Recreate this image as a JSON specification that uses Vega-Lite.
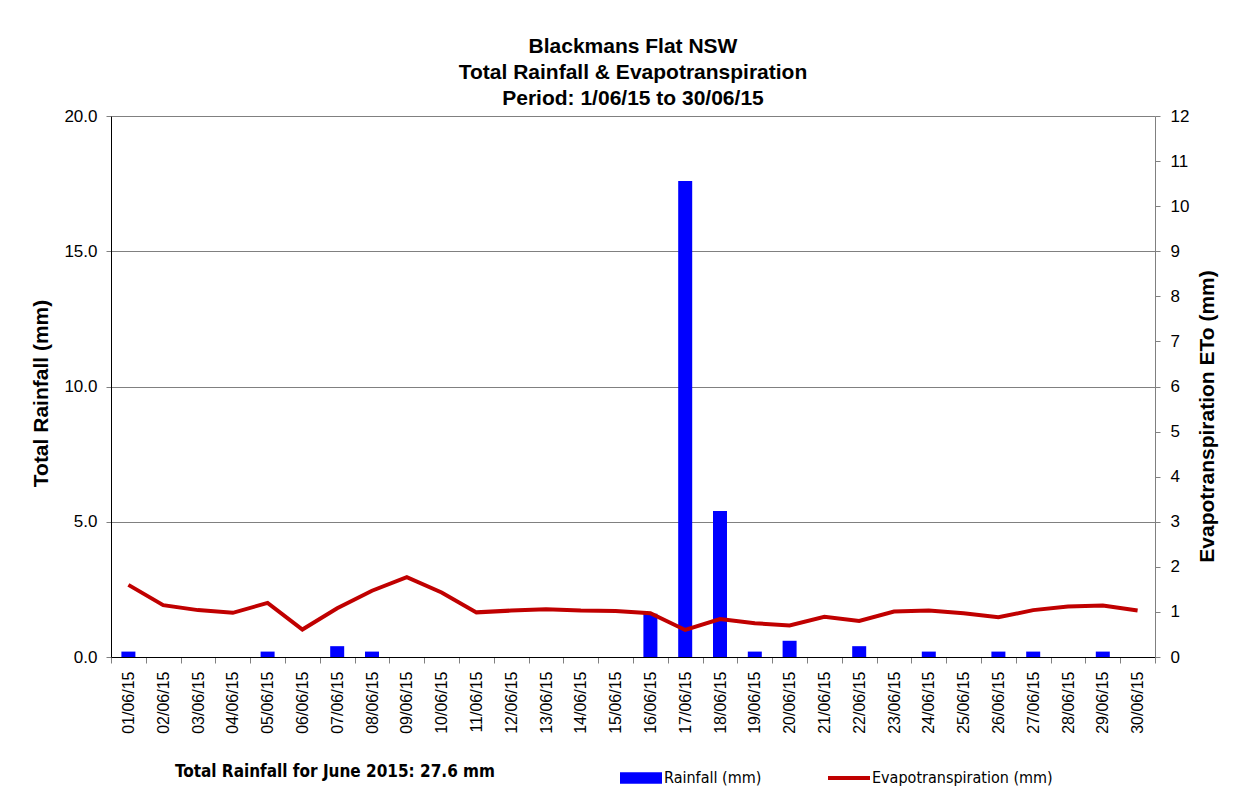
{
  "$schema": "https://vega.github.io/schema/vega-lite/v6.json",
  "width": 1044,
  "height": 541,
  "autosize": {"type": "none"},
  "padding": {"left": 111, "top": 116, "right": 79, "bottom": 145},
  "background": "white",
  "config": {"view": {"stroke": null}},
  "title": {
    "text": ["Blackmans Flat NSW", "Total Rainfall & Evapotranspiration", "Period: 1/06/15 to 30/06/15"],
    "font": "Liberation Sans", "fontSize": 21, "fontWeight": "bold", "lineHeight": 26,
    "anchor": "middle", "offset": -2, "color": "black"
  },
  "data": {"values": [
    {"date": "01/06/15", "rain": 0.2, "eto": 1.60},
    {"date": "02/06/15", "rain": 0, "eto": 1.15},
    {"date": "03/06/15", "rain": 0, "eto": 1.04},
    {"date": "04/06/15", "rain": 0, "eto": 0.98},
    {"date": "05/06/15", "rain": 0.2, "eto": 1.20},
    {"date": "06/06/15", "rain": 0, "eto": 0.61},
    {"date": "07/06/15", "rain": 0.4, "eto": 1.08},
    {"date": "08/06/15", "rain": 0.2, "eto": 1.47},
    {"date": "09/06/15", "rain": 0, "eto": 1.77},
    {"date": "10/06/15", "rain": 0, "eto": 1.43},
    {"date": "11/06/15", "rain": 0, "eto": 0.99},
    {"date": "12/06/15", "rain": 0, "eto": 1.03},
    {"date": "13/06/15", "rain": 0, "eto": 1.06},
    {"date": "14/06/15", "rain": 0, "eto": 1.03},
    {"date": "15/06/15", "rain": 0, "eto": 1.02},
    {"date": "16/06/15", "rain": 1.6, "eto": 0.97},
    {"date": "17/06/15", "rain": 17.6, "eto": 0.60},
    {"date": "18/06/15", "rain": 5.4, "eto": 0.84},
    {"date": "19/06/15", "rain": 0.2, "eto": 0.75},
    {"date": "20/06/15", "rain": 0.6, "eto": 0.70},
    {"date": "21/06/15", "rain": 0, "eto": 0.89},
    {"date": "22/06/15", "rain": 0.4, "eto": 0.80},
    {"date": "23/06/15", "rain": 0, "eto": 1.01},
    {"date": "24/06/15", "rain": 0.2, "eto": 1.03},
    {"date": "25/06/15", "rain": 0, "eto": 0.97},
    {"date": "26/06/15", "rain": 0.2, "eto": 0.88},
    {"date": "27/06/15", "rain": 0.2, "eto": 1.04},
    {"date": "28/06/15", "rain": 0, "eto": 1.12},
    {"date": "29/06/15", "rain": 0.2, "eto": 1.14},
    {"date": "30/06/15", "rain": 0, "eto": 1.03}
  ]},
  "layer": [
    {
      "mark": {"type": "bar", "width": 14, "color": "#0000FF"},
      "encoding": {
        "x": {
          "field": "date", "type": "ordinal", "sort": null,
          "scale": {"paddingInner": 0, "paddingOuter": 0},
          "axis": {
            "title": null, "labelAngle": -90, "labelFont": "Liberation Sans", "labelFontSize": 16,
            "labelColor": "black", "domainColor": "black", "domainWidth": 1,
            "tickColor": "#808080", "tickSize": 6, "tickBand": "extent", "labelPadding": 8, "grid": false
          }
        },
        "y": {
          "field": "rain", "type": "quantitative",
          "scale": {"domain": [0, 20], "nice": false},
          "axis": {
            "title": "Total Rainfall (mm)", "titleFont": "Liberation Sans", "titleFontSize": 21,
            "titleFontWeight": "bold", "titleColor": "black", "titlePadding": 12, "titleY": 277,
            "values": [0, 5, 10, 15, 20], "format": ".1f",
            "labelFont": "Liberation Sans", "labelFontSize": 17, "labelColor": "black",
            "tickColor": "#808080", "tickSize": 5, "labelPadding": 9,
            "domainColor": "black", "grid": true, "gridColor": "#808080", "gridWidth": 1
          }
        },
        "color": {
          "datum": "Rainfall (mm)",
          "scale": {"domain": ["Rainfall (mm)", "Evapotranspiration (mm)"], "range": ["#0000FF", "#C00000"]},
          "legend": {
            "orient": "none", "legendX": 64, "legendY": 641, "direction": "horizontal",
            "padding": 0,
            "title": "Total Rainfall for June 2015: 27.6 mm", "titleOrient": "left", "titlePadding": 125,
            "titleLimit": 2000, "labelLimit": 2000,
            "titleFont": "Liberation Sans Narrow, DejaVu Sans Condensed, sans-serif", "titleFontSize": 17,
            "titleFontWeight": "bold", "titleColor": "black",
            "labelFont": "Liberation Sans Narrow, DejaVu Sans Condensed, sans-serif", "labelFontSize": 16,
            "labelColor": "black", "labelOffset": 2, "columnPadding": 66,
            "symbolSize": 1764,
            "encode": {
              "symbols": {
                "update": {
                  "shape": {"signal": "datum.value === 'Rainfall (mm)' ? 'M-1,-0.27H1V0.27H-1Z' : 'M-1,-0.1H1V0.1H-1Z'"},
                  "fill": {"scale": "color", "field": "value"},
                  "stroke": {"value": "transparent"},
                  "strokeWidth": {"value": 0},
                  "size": {"value": 1764},
                  "opacity": {"value": 1}
                }
              }
            }
          }
        }
      }
    },
    {
      "mark": {"type": "line", "color": "#C00000", "strokeWidth": 4},
      "encoding": {
        "x": {"field": "date", "type": "ordinal", "sort": null, "bandPosition": 0.5},
        "y": {
          "field": "eto", "type": "quantitative",
          "scale": {"domain": [0, 12], "nice": false},
          "axis": {
            "orient": "right",
            "title": "Evapotranspiration ETo (mm)", "titleFont": "Liberation Sans", "titleFontSize": 21,
            "titleFontWeight": "bold", "titleColor": "black", "titleAngle": -90, "titleBaseline": "top", "titlePadding": 8,
            "titleY": 300,
            "values": [0, 1, 2, 3, 4, 5, 6, 7, 8, 9, 10, 11, 12],
            "labelFont": "Liberation Sans", "labelFontSize": 17, "labelColor": "black",
            "tickColor": "#808080", "tickSize": 5, "labelPadding": 10,
            "domainColor": "#808080", "grid": false
          }
        },
        "color": {"datum": "Evapotranspiration (mm)"}
      }
    }
  ],
  "resolve": {"scale": {"y": "independent"}}
}
